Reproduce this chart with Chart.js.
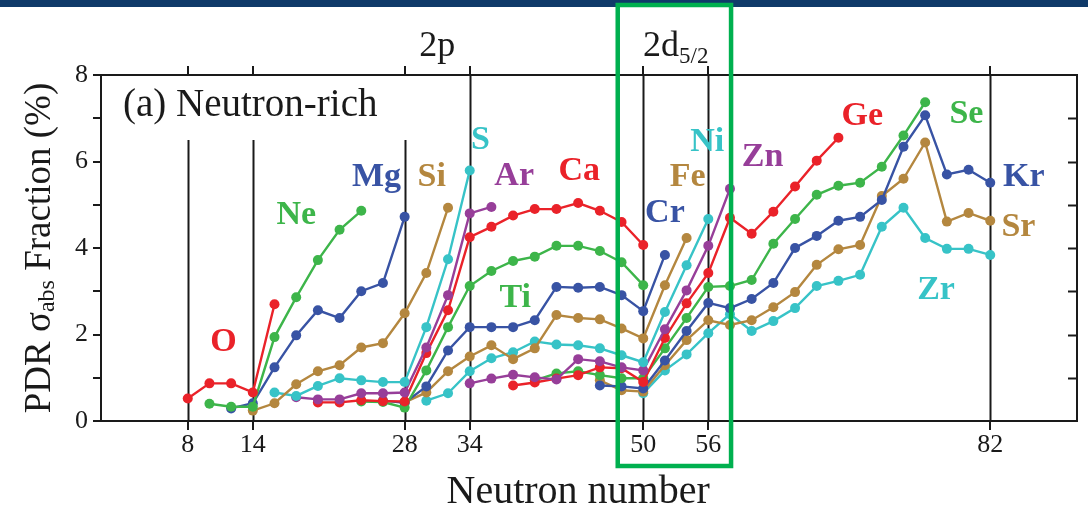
<!DOCTYPE html>
<html>
<head>
<meta charset="utf-8">
<script src="https://cdn.jsdelivr.net/npm/chart.js@4"></script>
<style>
  html, body { margin: 0; padding: 0; background: #fff; }
  canvas { display: block; }
</style>
</head>
<body>
<canvas id="pdrChart" width="1088" height="509"></canvas>
<script>
// magic numbers marked on both x axes, and how high each shell line goes
const magicN = [8, 14, 28, 34, 50, 56, 82];
const magicTop = [6.5, 6.5, 6.5, 8, 8, 8, 8];

// isotopic chains, even N in steps of 2 starting at firstN
const elements = ['O', 'Ne', 'Mg', 'Si', 'S', 'Ar', 'Ca', 'Ti', 'Cr', 'Fe', 'Ni', 'Zn', 'Ge', 'Se', 'Kr', 'Sr', 'Zr'];
const firstN = [8, 10, 12, 14, 16, 18, 20, 24, 26, 28, 30, 34, 38, 40, 46, 46, 50];

const fracO  = [0.52, 0.87, 0.87, 0.66, 2.70];
const fracNe = [0.40, 0.33, 0.33, 1.94, 2.86, 3.72, 4.42, 4.86];
const fracMg = [0.29, 0.41, 1.24, 1.98, 2.56, 2.38, 3.00, 3.19, 4.72];
const fracSi = [0.24, 0.41, 0.85, 1.15, 1.29, 1.70, 1.80, 2.49, 3.42, 4.93];
const fracS  = [0.66, 0.58, 0.81, 0.99, 0.94, 0.90, 0.90, 2.17, 3.74, 5.79];
const fracAr = [0.55, 0.50, 0.50, 0.64, 0.64, 0.66, 1.70, 2.91, 4.80, 4.95];
const fracCa = [0.43, 0.43, 0.48, 0.46, 0.45, 1.57, 2.56, 4.25, 4.49, 4.75, 4.90, 4.90, 5.04, 4.86, 4.60, 4.07];
const fracTi = [0.45, 0.44, 0.31, 1.17, 2.17, 3.12, 3.47, 3.70, 3.80, 4.05, 4.05, 3.93, 3.67, 3.14];
const fracCr = [0.47, 0.42, 0.80, 1.63, 2.17, 2.17, 2.17, 2.33, 3.10, 3.08, 3.10, 2.91, 2.54, 3.84];
const fracFe = [0.43, 0.66, 1.15, 1.49, 1.75, 1.43, 1.68, 2.45, 2.38, 2.35, 2.14, 1.91, 3.14, 4.23];
const fracNi = [0.47, 0.64, 1.15, 1.45, 1.59, 1.84, 1.77, 1.75, 1.68, 1.52, 1.36, 2.52, 3.60, 4.67];
const fracZn = [0.87, 0.98, 1.07, 1.01, 0.96, 1.43, 1.38, 1.24, 1.17, 2.12, 3.02, 4.05, 5.37];
const fracGe = [0.82, 0.89, 0.98, 1.06, 1.24, 1.22, 0.90, 1.92, 2.72, 3.42, 4.70, 4.33, 4.84, 5.42, 6.02, 6.55];
const fracSe = [0.94, 1.10, 1.15, 1.06, 0.99, 0.99, 1.68, 2.38, 3.10, 3.12, 3.26, 4.10, 4.67, 5.23, 5.44, 5.51, 5.88, 6.60, 7.37];
const fracKr = [0.82, 0.80, 0.75, 1.40, 2.08, 2.73, 2.61, 2.82, 3.19, 4.00, 4.28, 4.63, 4.72, 5.11, 6.34, 7.07, 5.70, 5.81, 5.51];
const fracSr = [0.94, 0.71, 0.68, 1.29, 1.87, 2.33, 2.22, 2.33, 2.63, 2.98, 3.61, 3.97, 4.07, 5.20, 5.60, 6.44, 4.61, 4.81, 4.63];
const fracZr = [0.64, 1.17, 1.54, 2.03, 2.47, 2.08, 2.31, 2.61, 3.12, 3.24, 3.38, 4.49, 4.93, 4.23, 3.98, 3.98, 3.84];

const chains = [fracO, fracNe, fracMg, fracSi, fracS, fracAr, fracCa, fracTi, fracCr,
                fracFe, fracNi, fracZn, fracGe, fracSe, fracKr, fracSr, fracZr];

// colours cycle red, green, blue, brown, cyan, purple with Z
const palette = ['#ea2229', '#3db54a', '#3853a4', '#b4873f', '#37c3c7', '#973e99'];

// where each element name sits, in (N, fraction) units
const labelN = [11.3, 18.0, 25.4, 30.5, 35.0, 38.1, 44.1, 38.2, 52.0, 54.1, 55.9, 61.0, 70.2, 79.8, 85.1, 84.6, 77.0];
const labelY = [1.82, 4.75, 5.63, 5.63, 6.50, 5.65, 5.77, 2.85, 4.81, 5.63, 6.44, 6.11, 7.04, 7.09, 5.63, 4.49, 3.03];

const serif = "'Liberation Serif', 'Times New Roman', serif";
const ink = '#1a1a1a';

const datasets = chains.map((vals, k) => ({
  label: elements[k],
  data: vals.map((v, i) => ({ x: firstN[k] + 2 * i, y: v })),
  borderColor: palette[k % 6],
  backgroundColor: palette[k % 6],
  borderWidth: 2.4,
  pointRadius: 5,
  pointBorderWidth: 0,
  pointHoverRadius: 5,
  tension: 0
}));

const magicTicks = scale => { scale.ticks = magicN.map(v => ({ value: v })); };

const decorations = {
  id: 'decorations',
  beforeDraw(chart) {
    const ctx = chart.ctx;
    ctx.save();
    ctx.fillStyle = '#0f3a69';
    ctx.fillRect(0, 0, chart.width, 7);
    ctx.restore();
  },
  beforeDatasetsDraw(chart) {
    const { ctx, chartArea } = chart;
    const xs = chart.scales.x, ys = chart.scales.y, yr = chart.scales.y2;
    ctx.save();
    ctx.strokeStyle = ink;
    ctx.lineWidth = 2;
    magicN.forEach((n, i) => {
      const px = Math.round(xs.getPixelForValue(n)) + 0.5;
      ctx.beginPath();
      ctx.moveTo(px, ys.getPixelForValue(magicTop[i]));
      ctx.lineTo(px, chartArea.bottom);
      ctx.stroke();
    });
    // inward ticks on the right frame
    for (let v = 1; v < 8; v++) {
      const py = Math.round(yr.getPixelForValue(v)) + 0.5;
      ctx.beginPath();
      ctx.moveTo(chartArea.right, py);
      ctx.lineTo(chartArea.right - 9, py);
      ctx.stroke();
    }
    ctx.restore();
  },
  afterDatasetsDraw(chart) {
    const { ctx, chartArea } = chart;
    const xs = chart.scales.x, ys = chart.scales.y;
    ctx.save();
    ctx.textAlign = 'center';
    ctx.textBaseline = 'middle';
    ctx.font = 'bold 34px ' + serif;
    elements.forEach((el, k) => {
      ctx.fillStyle = palette[k % 6];
      ctx.fillText(el, xs.getPixelForValue(labelN[k]), ys.getPixelForValue(labelY[k]));
    });

    ctx.fillStyle = ink;
    ctx.textAlign = 'left';
    ctx.font = '39px ' + serif;
    ctx.fillText('(a) Neutron-rich', chartArea.left + 22, chartArea.top + 31);

    // shell labels above the frame
    ctx.textAlign = 'center';
    ctx.textBaseline = 'alphabetic';
    ctx.font = '36px ' + serif;
    ctx.fillText('2p', (xs.getPixelForValue(28) + xs.getPixelForValue(34)) / 2, 56);
    const dMid = (xs.getPixelForValue(50) + xs.getPixelForValue(56)) / 2;
    ctx.textAlign = 'left';
    const w2d = ctx.measureText('2d').width;
    ctx.font = '23px ' + serif;
    const wSub = ctx.measureText('5/2').width;
    const x0 = dMid - (w2d + wSub) / 2;
    ctx.font = '36px ' + serif;
    ctx.fillText('2d', x0, 56);
    ctx.font = '23px ' + serif;
    ctx.fillText('5/2', x0 + w2d, 63);

    // x title, sitting a little left of the plot centre
    ctx.textAlign = 'center';
    ctx.font = '40px ' + serif;
    ctx.fillText('Neutron number', xs.getPixelForValue(44.0), 503);

    // rotated y title with subscript
    ctx.save();
    ctx.translate(40, (chartArea.top + chartArea.bottom) / 2);
    ctx.rotate(-Math.PI / 2);
    ctx.textAlign = 'left';
    ctx.textBaseline = 'middle';
    const big = '37px ' + serif, small = '24px ' + serif;
    const parts = [['PDR \u03c3', big, 0], ['abs', small, 8], [' Fraction (%)', big, 0]];
    let total = 0;
    parts.forEach(p => { ctx.font = p[1]; total += ctx.measureText(p[0]).width; });
    let cx = -total / 2;
    parts.forEach(p => {
      ctx.font = p[1];
      ctx.fillText(p[0], cx, p[2]);
      cx += ctx.measureText(p[0]).width;
    });
    ctx.restore();
    ctx.restore();
  },
  afterDraw(chart) {
    const ctx = chart.ctx;
    const xs = chart.scales.x;
    const left = xs.getPixelForValue(47.65), right = xs.getPixelForValue(58.1);
    ctx.save();
    ctx.strokeStyle = '#00b04f';
    ctx.lineWidth = 4.5;
    ctx.strokeRect(left, 5, right - left, 461);
    ctx.restore();
  }
};

new Chart(document.getElementById('pdrChart'), {
  type: 'line',
  data: { datasets },
  options: {
    responsive: false,
    animation: false,
    layout: { padding: 0 },
    plugins: { legend: { display: false }, tooltip: { enabled: false } },
    scales: {
      x: {
        type: 'linear', position: 'bottom', min: 0, max: 90,
        afterBuildTicks: magicTicks,
        afterFit: s => { s.height = 88; },
        ticks: { autoSkip: false, maxRotation: 0, color: ink, padding: 0, font: { family: serif, size: 26 } },
        grid: { drawOnChartArea: false, drawTicks: true, tickLength: 9, color: ink, lineWidth: 2 },
        border: { display: true, color: ink, width: 2 }
      },
      x2: {
        type: 'linear', position: 'top', min: 0, max: 90,
        afterBuildTicks: magicTicks,
        afterFit: s => { s.height = 75; },
        ticks: { display: false },
        grid: { drawOnChartArea: false, drawTicks: true, tickLength: 9, color: ink, lineWidth: 2 },
        border: { display: true, color: ink, width: 2 }
      },
      y: {
        type: 'linear', position: 'left', min: 0, max: 8,
        afterFit: s => { s.width = 101; },
        ticks: { stepSize: 1, color: ink, padding: 5, font: { family: serif, size: 26 },
                 callback: v => (v % 2 === 0 ? v : '') },
        grid: { drawOnChartArea: false, drawTicks: true, tickLength: 8, color: ink, lineWidth: 2 },
        border: { display: true, color: ink, width: 2 }
      },
      y2: {
        type: 'linear', position: 'right', min: 0, max: 8,
        afterFit: s => { s.width = 11; },
        ticks: { display: false },
        grid: { display: false },
        border: { display: true, color: ink, width: 2 }
      }
    }
  },
  plugins: [decorations]
});
</script>
</body>
</html>
